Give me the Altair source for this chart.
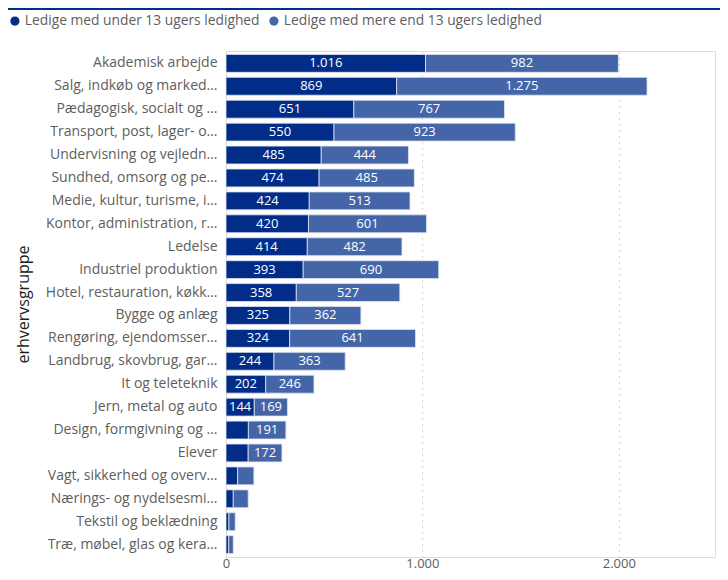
import altair as alt
import pandas as pd

FONT = "Open Sans"

categories = [
    "Akademisk arbejde",
    "Salg, indkøb og marked…",
    "Pædagogisk, socialt og …",
    "Transport, post, lager- o…",
    "Undervisning og vejledn…",
    "Sundhed, omsorg og pe…",
    "Medie, kultur, turisme, i…",
    "Kontor, administration, r…",
    "Ledelse",
    "Industriel produktion",
    "Hotel, restauration, køkk…",
    "Bygge og anlæg",
    "Rengøring, ejendomsser…",
    "Landbrug, skovbrug, gar…",
    "It og teleteknik",
    "Jern, metal og auto",
    "Design, formgivning og …",
    "Elever",
    "Vagt, sikkerhed og overv…",
    "Nærings- og nydelsesmi…",
    "Tekstil og beklædning",
    "Træ, møbel, glas og kera…",
]
under13 = [1016, 869, 651, 550, 485, 474, 424, 420, 414, 393, 358, 325, 324, 244, 202, 144, 114, 113, 59, 37, 15, 14]
over13 = [982, 1275, 767, 923, 444, 485, 513, 601, 482, 690, 527, 362, 641, 363, 246, 169, 191, 172, 83, 76, 32, 23]
series_names = ["Ledige med under 13 ugers ledighed", "Ledige med mere end 13 ugers ledighed"]
series_colors = ["#012D89", "#4466A9"]
x_ticks = [0, 1000, 2000]
x_max = 2490
y_title = "erhvervsgruppe"

rows = []
for i, c in enumerate(categories):
    rows.append({"cat": c, "series": series_names[0], "idx": 0, "value": under13[i]})
    rows.append({"cat": c, "series": series_names[1], "idx": 1, "value": over13[i]})
df = pd.DataFrame(rows)

base = alt.Chart(df).transform_stack(
    stack="value", groupby=["cat"], as_=["x0", "x1"],
    sort=[alt.SortField(field="idx", order="ascending")],
).transform_calculate(
    mid="(datum.x0 + datum.x1) / 2",
    lbl="replace(format(datum.value, ','), ',', '.')",
)

xscale = alt.Scale(domain=[0, x_max], nice=False, zero=True)
yscale = alt.Scale(paddingInner=0.22, paddingOuter=0.15)

y_enc = alt.Y(
    "cat:N", sort=categories, scale=yscale,
    axis=alt.Axis(
        title=y_title, titleFont=FONT, titleFontSize=16, titleFontWeight="normal",
        titleColor="#201F1E", titleAngle=-90, titleX=-203, titleBaseline="middle",
        labelFont=FONT, labelFontSize=14, labelColor="#605E5C", labelPadding=9,
        labelLimit=260, ticks=False, domain=False, grid=False,
    ),
)

bars = base.mark_bar(stroke="#dfe5ef", strokeWidth=0.8).encode(
    y=y_enc,
    x=alt.X(
        "x0:Q", scale=xscale,
        axis=alt.Axis(
            title=None, values=x_ticks, labelExpr="replace(format(datum.value, ','), ',', '.')",
            labelFont=FONT, labelFontSize=13, labelColor="#605E5C", labelPadding=0,
            labelFlush=False, ticks=False, domain=False, grid=True, gridColor="#C8C6C4",
            gridDash=[1.5, 4.5], gridWidth=1,
        ),
    ),
    x2="x1:Q",
    color=alt.Color(
        "series:N", scale=alt.Scale(domain=series_names, range=series_colors),
        legend=alt.Legend(
            title=None, orient="none", legendX=-218, legendY=-37, direction="horizontal",
            symbolType="circle", symbolSize=85, symbolStrokeWidth=0, labelFont=FONT,
            labelFontSize=13.8, labelColor="#605E5C", labelLimit=400, columnPadding=7,
            labelOffset=3, padding=0,
        ),
    ),
)

text = base.transform_filter("datum.value >= 120").mark_text(
    color="white", font=FONT, fontSize=13, baseline="middle", align="center"
).encode(
    y=alt.Y("cat:N", sort=categories, scale=yscale),
    x=alt.X("mid:Q", scale=xscale),
    text="lbl:N",
)

band = alt.Chart(pd.DataFrame({"a": [0]})).mark_rect(color="#012D89").encode(
    x=alt.value(-218), x2=alt.value(494), y=alt.value(-43), y2=alt.value(-41)
)

chart = alt.layer(bars, text, band).properties(
    width=489, height=506,
    autosize=alt.AutoSizeParams(type="none"),
    padding={"left": 218, "top": 43, "right": 5, "bottom": 15},
).configure_view(stroke=None).configure(background="white")

chart.save("out.html", embed_options={"renderer": "svg", "actions": False})
